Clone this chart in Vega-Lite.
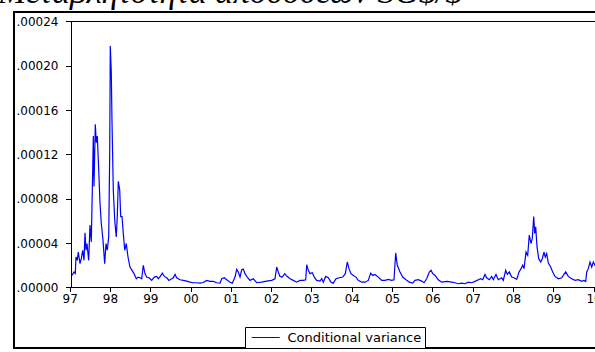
{
  "$schema": "https://vega.github.io/schema/vega-lite/v6.json",
  "width": 606,
  "height": 336,
  "autosize": {"type": "none"},
  "padding": {"left": 14, "top": 12, "right": -25, "bottom": 4},
  "background": "white",
  "title": {
    "text": "Μεταβλητότητα αποδόσεων SG$/$",
    "anchor": "start",
    "frame": "group",
    "dx": -16,
    "dy": 25,
    "offset": 0,
    "font": "Liberation Serif",
    "fontStyle": "italic",
    "fontWeight": "normal",
    "fontSize": 34,
    "color": "black",
    "baseline": "alphabetic"
  },
  "config": {
    "view": {"stroke": "black", "strokeWidth": 2},
    "axis": {
      "labelFont": "DejaVu Sans",
      "labelFontSize": 12,
      "labelColor": "black",
      "tickColor": "black",
      "tickWidth": 1,
      "grid": false,
      "domain": false,
      "title": null
    }
  },
  "data": {"values": [
    {"t": 1997.057, "v": 0.0000109},
    {"t": 1997.107, "v": 0.0000140},
    {"t": 1997.139, "v": 0.0000127},
    {"t": 1997.156, "v": 0.0000275},
    {"t": 1997.189, "v": 0.0000245},
    {"t": 1997.213, "v": 0.0000320},
    {"t": 1997.256, "v": 0.0000215},
    {"t": 1997.288, "v": 0.0000260},
    {"t": 1997.323, "v": 0.0000336},
    {"t": 1997.355, "v": 0.0000245},
    {"t": 1997.380, "v": 0.0000494},
    {"t": 1997.404, "v": 0.0000336},
    {"t": 1997.429, "v": 0.0000397},
    {"t": 1997.471, "v": 0.0000245},
    {"t": 1997.504, "v": 0.0000564},
    {"t": 1997.536, "v": 0.0000412},
    {"t": 1997.571, "v": 0.0001064},
    {"t": 1997.586, "v": 0.0001366},
    {"t": 1997.603, "v": 0.0000912},
    {"t": 1997.635, "v": 0.0001473},
    {"t": 1997.660, "v": 0.0001306},
    {"t": 1997.685, "v": 0.0001366},
    {"t": 1997.720, "v": 0.0001064},
    {"t": 1997.752, "v": 0.0000760},
    {"t": 1997.784, "v": 0.0000579},
    {"t": 1997.826, "v": 0.0000427},
    {"t": 1997.868, "v": 0.0000215},
    {"t": 1997.901, "v": 0.0000397},
    {"t": 1997.933, "v": 0.0000336},
    {"t": 1997.968, "v": 0.0000457},
    {"t": 1997.993, "v": 0.0001215},
    {"t": 1998.007, "v": 0.0002180},
    {"t": 1998.032, "v": 0.0001940},
    {"t": 1998.050, "v": 0.0001490},
    {"t": 1998.082, "v": 0.0000880},
    {"t": 1998.117, "v": 0.0000610},
    {"t": 1998.156, "v": 0.0000457},
    {"t": 1998.181, "v": 0.0000640},
    {"t": 1998.206, "v": 0.0000957},
    {"t": 1998.241, "v": 0.0000880},
    {"t": 1998.266, "v": 0.0000640},
    {"t": 1998.298, "v": 0.0000640},
    {"t": 1998.330, "v": 0.0000488},
    {"t": 1998.365, "v": 0.0000336},
    {"t": 1998.404, "v": 0.0000397},
    {"t": 1998.447, "v": 0.0000275},
    {"t": 1998.496, "v": 0.0000185},
    {"t": 1998.546, "v": 0.0000155},
    {"t": 1998.596, "v": 0.0000125},
    {"t": 1998.653, "v": 0.0000079},
    {"t": 1998.702, "v": 0.0000094},
    {"t": 1998.744, "v": 0.0000088},
    {"t": 1998.787, "v": 0.0000079},
    {"t": 1998.826, "v": 0.0000200},
    {"t": 1998.868, "v": 0.0000125},
    {"t": 1998.911, "v": 0.0000094},
    {"t": 1998.968, "v": 0.0000088},
    {"t": 1999.035, "v": 0.0000064},
    {"t": 1999.099, "v": 0.0000094},
    {"t": 1999.159, "v": 0.0000100},
    {"t": 1999.199, "v": 0.0000079},
    {"t": 1999.248, "v": 0.0000100},
    {"t": 1999.298, "v": 0.0000130},
    {"t": 1999.347, "v": 0.0000100},
    {"t": 1999.407, "v": 0.0000088},
    {"t": 1999.464, "v": 0.0000064},
    {"t": 1999.531, "v": 0.0000079},
    {"t": 1999.571, "v": 0.0000088},
    {"t": 1999.613, "v": 0.0000118},
    {"t": 1999.655, "v": 0.0000088},
    {"t": 1999.737, "v": 0.0000070},
    {"t": 1999.819, "v": 0.0000064},
    {"t": 1999.903, "v": 0.0000058},
    {"t": 1999.985, "v": 0.0000048},
    {"t": 2000.067, "v": 0.0000043},
    {"t": 2000.151, "v": 0.0000043},
    {"t": 2000.233, "v": 0.0000039},
    {"t": 2000.315, "v": 0.0000045},
    {"t": 2000.399, "v": 0.0000064},
    {"t": 2000.481, "v": 0.0000055},
    {"t": 2000.563, "v": 0.0000055},
    {"t": 2000.648, "v": 0.0000043},
    {"t": 2000.730, "v": 0.0000039},
    {"t": 2000.772, "v": 0.0000079},
    {"t": 2000.836, "v": 0.0000088},
    {"t": 2000.896, "v": 0.0000070},
    {"t": 2000.978, "v": 0.0000048},
    {"t": 2001.035, "v": 0.0000039},
    {"t": 2001.102, "v": 0.0000094},
    {"t": 2001.144, "v": 0.0000164},
    {"t": 2001.184, "v": 0.0000140},
    {"t": 2001.226, "v": 0.0000094},
    {"t": 2001.268, "v": 0.0000160},
    {"t": 2001.308, "v": 0.0000167},
    {"t": 2001.350, "v": 0.0000125},
    {"t": 2001.417, "v": 0.0000088},
    {"t": 2001.474, "v": 0.0000064},
    {"t": 2001.556, "v": 0.0000079},
    {"t": 2001.640, "v": 0.0000043},
    {"t": 2001.764, "v": 0.0000048},
    {"t": 2001.888, "v": 0.0000058},
    {"t": 2002.012, "v": 0.0000064},
    {"t": 2002.094, "v": 0.0000079},
    {"t": 2002.136, "v": 0.0000185},
    {"t": 2002.176, "v": 0.0000140},
    {"t": 2002.218, "v": 0.0000100},
    {"t": 2002.275, "v": 0.0000094},
    {"t": 2002.335, "v": 0.0000125},
    {"t": 2002.385, "v": 0.0000103},
    {"t": 2002.467, "v": 0.0000079},
    {"t": 2002.548, "v": 0.0000064},
    {"t": 2002.633, "v": 0.0000048},
    {"t": 2002.715, "v": 0.0000064},
    {"t": 2002.797, "v": 0.0000064},
    {"t": 2002.856, "v": 0.0000070},
    {"t": 2002.881, "v": 0.0000206},
    {"t": 2002.921, "v": 0.0000155},
    {"t": 2002.963, "v": 0.0000125},
    {"t": 2003.020, "v": 0.0000133},
    {"t": 2003.069, "v": 0.0000094},
    {"t": 2003.129, "v": 0.0000064},
    {"t": 2003.211, "v": 0.0000058},
    {"t": 2003.253, "v": 0.0000079},
    {"t": 2003.293, "v": 0.0000048},
    {"t": 2003.352, "v": 0.0000100},
    {"t": 2003.417, "v": 0.0000088},
    {"t": 2003.484, "v": 0.0000048},
    {"t": 2003.541, "v": 0.0000039},
    {"t": 2003.608, "v": 0.0000079},
    {"t": 2003.690, "v": 0.0000088},
    {"t": 2003.774, "v": 0.0000094},
    {"t": 2003.839, "v": 0.0000125},
    {"t": 2003.888, "v": 0.0000230},
    {"t": 2003.931, "v": 0.0000170},
    {"t": 2003.980, "v": 0.0000125},
    {"t": 2004.037, "v": 0.0000109},
    {"t": 2004.104, "v": 0.0000094},
    {"t": 2004.161, "v": 0.0000064},
    {"t": 2004.246, "v": 0.0000048},
    {"t": 2004.328, "v": 0.0000048},
    {"t": 2004.409, "v": 0.0000064},
    {"t": 2004.469, "v": 0.0000130},
    {"t": 2004.519, "v": 0.0000109},
    {"t": 2004.576, "v": 0.0000118},
    {"t": 2004.658, "v": 0.0000094},
    {"t": 2004.742, "v": 0.0000064},
    {"t": 2004.824, "v": 0.0000064},
    {"t": 2004.906, "v": 0.0000073},
    {"t": 2004.990, "v": 0.0000064},
    {"t": 2005.047, "v": 0.0000070},
    {"t": 2005.089, "v": 0.0000312},
    {"t": 2005.129, "v": 0.0000200},
    {"t": 2005.196, "v": 0.0000140},
    {"t": 2005.263, "v": 0.0000094},
    {"t": 2005.345, "v": 0.0000070},
    {"t": 2005.427, "v": 0.0000048},
    {"t": 2005.511, "v": 0.0000039},
    {"t": 2005.568, "v": 0.0000064},
    {"t": 2005.650, "v": 0.0000070},
    {"t": 2005.734, "v": 0.0000058},
    {"t": 2005.792, "v": 0.0000043},
    {"t": 2005.859, "v": 0.0000079},
    {"t": 2005.923, "v": 0.0000140},
    {"t": 2005.965, "v": 0.0000155},
    {"t": 2006.007, "v": 0.0000125},
    {"t": 2006.065, "v": 0.0000109},
    {"t": 2006.146, "v": 0.0000070},
    {"t": 2006.231, "v": 0.0000048},
    {"t": 2006.355, "v": 0.0000055},
    {"t": 2006.479, "v": 0.0000048},
    {"t": 2006.561, "v": 0.0000043},
    {"t": 2006.643, "v": 0.0000034},
    {"t": 2006.727, "v": 0.0000039},
    {"t": 2006.809, "v": 0.0000034},
    {"t": 2006.891, "v": 0.0000048},
    {"t": 2006.975, "v": 0.0000043},
    {"t": 2007.057, "v": 0.0000055},
    {"t": 2007.139, "v": 0.0000070},
    {"t": 2007.199, "v": 0.0000079},
    {"t": 2007.248, "v": 0.0000070},
    {"t": 2007.305, "v": 0.0000118},
    {"t": 2007.347, "v": 0.0000088},
    {"t": 2007.412, "v": 0.0000070},
    {"t": 2007.471, "v": 0.0000100},
    {"t": 2007.511, "v": 0.0000070},
    {"t": 2007.578, "v": 0.0000118},
    {"t": 2007.635, "v": 0.0000070},
    {"t": 2007.720, "v": 0.0000088},
    {"t": 2007.759, "v": 0.0000064},
    {"t": 2007.819, "v": 0.0000155},
    {"t": 2007.859, "v": 0.0000118},
    {"t": 2007.908, "v": 0.0000140},
    {"t": 2007.968, "v": 0.0000094},
    {"t": 2008.025, "v": 0.0000088},
    {"t": 2008.092, "v": 0.0000073},
    {"t": 2008.149, "v": 0.0000140},
    {"t": 2008.199, "v": 0.0000170},
    {"t": 2008.241, "v": 0.0000200},
    {"t": 2008.273, "v": 0.0000170},
    {"t": 2008.323, "v": 0.0000320},
    {"t": 2008.365, "v": 0.0000290},
    {"t": 2008.404, "v": 0.0000473},
    {"t": 2008.447, "v": 0.0000397},
    {"t": 2008.479, "v": 0.0000443},
    {"t": 2008.514, "v": 0.0000640},
    {"t": 2008.538, "v": 0.0000488},
    {"t": 2008.563, "v": 0.0000548},
    {"t": 2008.596, "v": 0.0000366},
    {"t": 2008.638, "v": 0.0000260},
    {"t": 2008.687, "v": 0.0000230},
    {"t": 2008.727, "v": 0.0000260},
    {"t": 2008.769, "v": 0.0000320},
    {"t": 2008.801, "v": 0.0000275},
    {"t": 2008.836, "v": 0.0000306},
    {"t": 2008.876, "v": 0.0000220},
    {"t": 2008.935, "v": 0.0000185},
    {"t": 2008.985, "v": 0.0000140},
    {"t": 2009.042, "v": 0.0000100},
    {"t": 2009.124, "v": 0.0000079},
    {"t": 2009.208, "v": 0.0000088},
    {"t": 2009.248, "v": 0.0000109},
    {"t": 2009.308, "v": 0.0000140},
    {"t": 2009.372, "v": 0.0000100},
    {"t": 2009.457, "v": 0.0000079},
    {"t": 2009.538, "v": 0.0000064},
    {"t": 2009.620, "v": 0.0000070},
    {"t": 2009.705, "v": 0.0000055},
    {"t": 2009.762, "v": 0.0000064},
    {"t": 2009.804, "v": 0.0000055},
    {"t": 2009.829, "v": 0.0000140},
    {"t": 2009.868, "v": 0.0000170},
    {"t": 2009.911, "v": 0.0000230},
    {"t": 2009.953, "v": 0.0000185},
    {"t": 2009.993, "v": 0.0000230},
    {"t": 2010.035, "v": 0.0000200},
    {"t": 2010.070, "v": 0.0000210},
    {"t": 2010.120, "v": 0.0000180}
  ]},
  "layer": [
    {
      "mark": {"type": "line", "strokeWidth": 1.2, "interpolate": "linear"},
      "encoding": {
        "x": {
          "field": "t",
          "type": "quantitative",
          "scale": {"domain": [1995.618, 2010.655], "nice": false, "zero": false},
          "axis": {
            "orient": "bottom",
            "offset": -60.5,
            "values": [1997, 1997.25, 1997.5, 1997.75, 1998, 1998.25, 1998.5, 1998.75, 1999, 1999.25, 1999.5, 1999.75, 2000, 2000.25, 2000.5, 2000.75, 2001, 2001.25, 2001.5, 2001.75, 2002, 2002.25, 2002.5, 2002.75, 2003, 2003.25, 2003.5, 2003.75, 2004, 2004.25, 2004.5, 2004.75, 2005, 2005.25, 2005.5, 2005.75, 2006, 2006.25, 2006.5, 2006.75, 2007, 2007.25, 2007.5, 2007.75, 2008, 2008.25, 2008.5, 2008.75, 2009, 2009.25, 2009.5, 2009.75, 2010, 2010.25, 2010.5],
            "labelExpr": "datum.value % 1 == 0 ? format(datum.value % 100, '02d') : ''",
            "tickSize": 4,
            "labelPadding": 2,
            "labelOverlap": false,
            "labelFlush": false,
            "title": null
          }
        },
        "y": {
          "field": "v",
          "type": "quantitative",
          "scale": {"domain": [-0.00005459, 0.00024857], "nice": false, "zero": false},
          "axis": {
            "orient": "left",
            "offset": -57.5,
            "values": [0, 0.00004, 0.00008, 0.00012, 0.00016, 0.0002, 0.00024],
            "labelExpr": "replace(format(datum.value, '.5f'), '0.', '.')",
            "tickSize": 6,
            "labelPadding": 7.5,
            "title": null
          }
        },
        "color": {
          "datum": "Conditional variance",
          "type": "nominal",
          "scale": {"range": ["#0000ff"]},
          "legend": {
            "orient": "none",
            "legendX": 231,
            "legendY": 315,
            "title": null,
            "symbolType": "M-2,0H2",
            "symbolSize": 196,
            "symbolStrokeWidth": 1,
            "symbolOffset": 10.2,
            "labelOffset": 14.3,
            "labelFont": "DejaVu Sans",
            "labelFontSize": 13,
            "labelColor": "black",
            "strokeColor": "black",
            "fillColor": "white",
            "padding": 3
          }
        }
      }
    },
    {
      "data": {"values": [{}]},
      "mark": {"type": "rule", "color": "black", "strokeWidth": 1},
      "encoding": {
        "x": {"datum": 1997.045, "type": "quantitative"},
        "y": {"datum": 0, "type": "quantitative"},
        "y2": {"datum": 0.00024}
      }
    },
    {
      "data": {"values": [{}]},
      "mark": {"type": "rule", "color": "black", "strokeWidth": 1},
      "encoding": {
        "x": {"datum": 1997.045, "type": "quantitative"},
        "x2": {"datum": 2010.655},
        "y": {"datum": 0.00024, "type": "quantitative"}
      }
    },
    {
      "data": {"values": [{}]},
      "mark": {"type": "rule", "color": "black", "strokeWidth": 1},
      "encoding": {
        "x": {"datum": 1997.045, "type": "quantitative"},
        "x2": {"datum": 2010.655},
        "y": {"datum": 0, "type": "quantitative"}
      }
    }
  ]
}
